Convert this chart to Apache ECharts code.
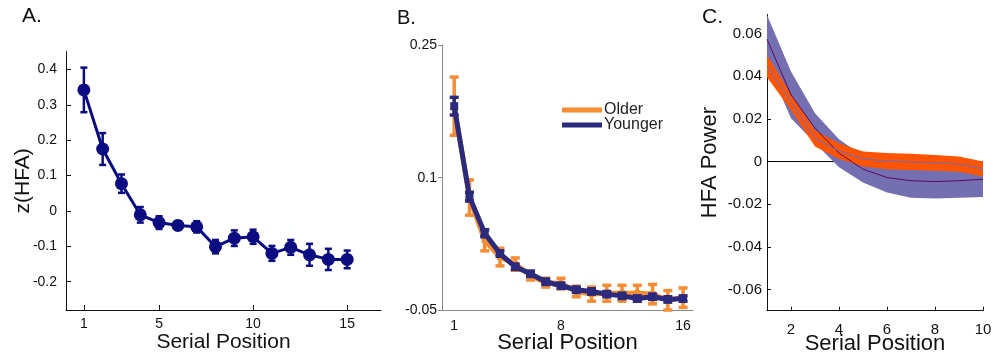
<!DOCTYPE html>
<html>
<head>
<meta charset="utf-8">
<script src="https://cdn.jsdelivr.net/npm/echarts@6/dist/echarts.min.js"></script>
<style>html,body{margin:0;padding:0;background:#fff}#c{width:993px;height:358px}</style>
</head>
<body>
<div id="c"></div>
<script>
// ---------- Panel A ----------
const posA = [1,2,3,4,5,6,7,8,9,10,11,12,13,14,15];
const hfaA = [0.342,0.175,0.077,-0.011,-0.033,-0.041,-0.045,-0.101,-0.077,-0.073,-0.120,-0.103,-0.124,-0.137,-0.137];
const errA = [0.063,0.045,0.026,0.022,0.018,0.012,0.016,0.019,0.022,0.020,0.021,0.021,0.031,0.030,0.025];
const xTicksA = [1,5,10,15];
const yTicksA = [-0.2,-0.1,0,0.1,0.2,0.3,0.4];

// ---------- Panel B ----------
const posB = [1,2,3,4,5,6,7,8,9,10,11,12,13,14,15,16];
const olderB = [0.181,0.0775,0.029,0.010,0.002,-0.011,-0.019,-0.020,-0.029,-0.032,-0.031,-0.031,-0.031,-0.032,-0.039,-0.036];
const olderErrB = [0.033,0.020,0.012,0.010,0.007,0.005,0.005,0.006,0.006,0.008,0.009,0.009,0.009,0.011,0.011,0.011];
const youngerB = [0.181,0.0785,0.037,0.014,-0.001,-0.009,-0.018,-0.0225,-0.027,-0.029,-0.032,-0.034,-0.037,-0.035,-0.038,-0.037];
const youngerErrB = [0.010,0.005,0.004,0.003,0.003,0.003,0.003,0.003,0.003,0.003,0.003,0.003,0.003,0.003,0.003,0.003];
const xTicksB = [1,8,16];
const yTicksB = [-0.05,0.1,0.25];

// ---------- Panel C ----------
const posC = [1,2,3,4,5,6,7,8,9,10];
const youngMeanC = [0.0574,0.0313,0.0157,0.0039,-0.0036,-0.0075,-0.009,-0.0094,-0.009,-0.0083];
const youngHalfC = [0.0114,0.011,0.007,0.0066,0.0062,0.007,0.008,0.008,0.008,0.0084];
const olderMeanC = [0.0448,0.0278,0.0108,0.0049,0.0012,0.0002,-0.0002,-0.0006,-0.0012,-0.0035];
const olderHalfC = [0.0052,0.0036,0.0038,0.0037,0.0035,0.0038,0.0038,0.0037,0.0036,0.0035];
const zeroLineC = [[1,0],[10,0]];
const xTicksC = [2,4,6,8,10];
const yTicksC = [-0.06,-0.04,-0.02,0,0.02,0.04,0.06];

const FONT = '"Liberation Sans", Arial, Helvetica, sans-serif';
const NAVY_A = '#0b0b82';
const ORANGE_B = '#f68d35';
const NAVY_B = '#2b2a7c';
const BLUE_C = '#736fb1';
const ORANGE_C = '#ff5500';

function pairs(xs, ys){ return xs.map((x,i)=>[x, ys[i]]); }
function triples(xs, ys, es){ return xs.map((x,i)=>[x, ys[i], es[i]]); }

function errBar(color, lw, capW){
  return function(params, api){
    const x = api.value(0), y = api.value(1), e = api.value(2);
    const t = api.coord([x, y + e]);
    const b = api.coord([x, y - e]);
    const st = {stroke: color, lineWidth: lw};
    return {type:'group', children:[
      {type:'line', shape:{x1:t[0], y1:t[1], x2:b[0], y2:b[1]}, style:st},
      {type:'line', shape:{x1:t[0]-capW/2, y1:t[1], x2:t[0]+capW/2, y2:t[1]}, style:st},
      {type:'line', shape:{x1:b[0]-capW/2, y1:b[1], x2:b[0]+capW/2, y2:b[1]}, style:st}
    ]};
  };
}

// band polygon through all points (drawn once, on the first item)
function makeBand(xs, mean, half, color){
  return function(params, api){
    if (params.dataIndex !== 0) return null;
    const upper = xs.map((x,i)=>api.coord([x, mean[i] + half[i]]));
    const lower = xs.map((x,i)=>api.coord([x, mean[i] - half[i]])).reverse();
    return {type:'polygon', shape:{points: upper.concat(lower)}, style:{fill: color}};
  };
}

const chart = echarts.init(document.getElementById('c'), null, {renderer:'canvas'});

const axisTextBase = {fontFamily: FONT, color:'#111'};

const option = {
  animation: false,
  textStyle: {fontFamily: FONT},
  graphic: [
    {type:'text', left:22, top:6, style:{text:'A.', font:'21px ' + FONT, fill:'#111'}},
    {type:'text', left:397, top:8, style:{text:'B.', font:'20px ' + FONT, fill:'#111'}},
    {type:'text', left:702, top:7, style:{text:'C.', font:'21px ' + FONT, fill:'#111'}}
  ],
  legend: {
    data: [{name:'Older', icon:'rect'}, {name:'Younger', icon:'rect'}],
    orient: 'vertical',
    left: 557, top: 97,
    itemWidth: 40, itemHeight: 5, itemGap: -1,
    textStyle: {fontSize: 16, lineHeight: 15, color:'#222', fontFamily: FONT, padding:[0,0,0,-3]}
  },
  grid: [
    {left:66, top:51.7, width:315, height:258.3, outerBoundsMode:'none', containLabel:false},
    {left:442, top:45.3, width:251, height:264.7, outerBoundsMode:'none', containLabel:false},
    {left:767, top:14.5, width:216, height:296.2, outerBoundsMode:'none', containLabel:false}
  ],
  xAxis: [
    {gridIndex:0, type:'value', min:0.05, max:16.8,
     name:'Serial Position', nameLocation:'middle', nameGap:22, nameMoveOverlap:false,
     nameTextStyle:{fontSize:21, color:'#111', fontFamily:FONT},
     axisLine:{show:true, onZero:false, lineStyle:{color:'#111', width:1}},
     axisTick:{show:true, inside:true, length:5, customValues:xTicksA, lineStyle:{color:'#111'}},
     axisLabel:{customValues:xTicksA, fontSize:14, margin:7, ...axisTextBase},
     splitLine:{show:false}},
    {gridIndex:1, type:'value', min:0.2, max:16.65,
     name:'Serial Position', nameLocation:'middle', nameGap:22, nameMoveOverlap:false,
     nameTextStyle:{fontSize:22, color:'#111', fontFamily:FONT},
     axisLine:{show:true, onZero:false, lineStyle:{color:'#888', width:1}},
     axisTick:{show:false, customValues:xTicksB},
     axisLabel:{customValues:xTicksB, fontSize:14, margin:9, ...axisTextBase},
     splitLine:{show:false}},
    {gridIndex:2, type:'value', min:1, max:10,
     name:'Serial Position', nameLocation:'middle', nameGap:22, nameMoveOverlap:false,
     nameTextStyle:{fontSize:22, color:'#111', fontFamily:FONT},
     axisLine:{show:true, onZero:false, lineStyle:{color:'#111', width:1}},
     axisTick:{show:true, inside:true, length:4, customValues:xTicksC, lineStyle:{color:'#111'}},
     axisLabel:{customValues:xTicksC, fontSize:15, margin:12, ...axisTextBase},
     splitLine:{show:false}}
  ],
  yAxis: [
    {gridIndex:0, type:'value', min:-0.28, max:0.45,
     name:'z(HFA)', nameLocation:'middle', nameGap:32, nameMoveOverlap:false,
     nameTextStyle:{fontSize:21, color:'#111', fontFamily:FONT},
     axisLine:{show:true, onZero:false, lineStyle:{color:'#111', width:1}},
     axisTick:{show:true, inside:true, length:5, customValues:yTicksA, lineStyle:{color:'#111'}},
     axisLabel:{customValues:yTicksA, fontSize:14, margin:9, ...axisTextBase},
     splitLine:{show:false}},
    {gridIndex:1, type:'value', min:-0.05, max:0.25,
     axisLine:{show:true, onZero:false, lineStyle:{color:'#888', width:1}},
     axisTick:{show:true, inside:false, length:4, customValues:yTicksB, lineStyle:{color:'#888'}},
     axisLabel:{customValues:yTicksB, fontSize:14, margin:5, ...axisTextBase},
     splitLine:{show:false}},
    {gridIndex:2, type:'value', min:-0.07, max:0.069,
     name:'HFA Power', nameLocation:'middle', nameGap:46, nameMoveOverlap:false,
     nameTextStyle:{fontSize:22, color:'#111', fontFamily:FONT},
     axisLine:{show:true, onZero:false, lineStyle:{color:'#111', width:1}},
     axisTick:{show:true, inside:true, length:4, customValues:yTicksC, lineStyle:{color:'#111'}},
     axisLabel:{customValues:yTicksC, fontSize:15, margin:5, ...axisTextBase},
     splitLine:{show:false}}
  ],
  series: [
    // Panel A
    {type:'custom', name:'errA', xAxisIndex:0, yAxisIndex:0, renderItem: errBar(NAVY_A, 2.5, 7),
     encode:{x:0, y:1}, data: triples(posA, hfaA, errA), z:3},
    {type:'line', name:'A', xAxisIndex:0, yAxisIndex:0, data: pairs(posA, hfaA),
     lineStyle:{color:NAVY_A, width:3}, itemStyle:{color:NAVY_A}, symbol:'circle', symbolSize:13, z:4},

    // Panel B
    {type:'custom', name:'errOlder', xAxisIndex:1, yAxisIndex:1, renderItem: errBar(ORANGE_B, 3.5, 9),
     encode:{x:0, y:1}, data: triples(posB, olderB, olderErrB), z:2},
    {type:'line', name:'Older', xAxisIndex:1, yAxisIndex:1, data: pairs(posB, olderB),
     lineStyle:{color:ORANGE_B, width:5}, itemStyle:{color:ORANGE_B}, symbol:'rect', symbolSize:6, z:3},
    {type:'custom', name:'errYounger', xAxisIndex:1, yAxisIndex:1, renderItem: errBar(NAVY_B, 3.5, 9),
     encode:{x:0, y:1}, data: triples(posB, youngerB, youngerErrB), z:4},
    {type:'line', name:'Younger', xAxisIndex:1, yAxisIndex:1, data: pairs(posB, youngerB),
     lineStyle:{color:NAVY_B, width:5}, itemStyle:{color:NAVY_B}, symbol:'rect', symbolSize:8, z:5},

    // Panel C
    {type:'line', name:'zero', xAxisIndex:2, yAxisIndex:2, data: zeroLineC, symbol:'none',
     lineStyle:{color:'#000', width:1}, z:1},
    {type:'custom', name:'youngBand', xAxisIndex:2, yAxisIndex:2, encode:{x:0, y:1},
     data: triples(posC, youngMeanC, youngHalfC),
     renderItem: makeBand(posC, youngMeanC, youngHalfC, BLUE_C), z:2, clip:true},
    {type:'custom', name:'olderBand', xAxisIndex:2, yAxisIndex:2, encode:{x:0, y:1},
     data: triples(posC, olderMeanC, olderHalfC),
     renderItem: makeBand(posC, olderMeanC, olderHalfC, ORANGE_C), z:3, clip:true},
    {type:'line', name:'yMean', xAxisIndex:2, yAxisIndex:2, data: pairs(posC, youngMeanC), symbol:'none',
     lineStyle:{color:'#5c0a55', width:1}, z:4},
    {type:'line', name:'oMean', xAxisIndex:2, yAxisIndex:2, data: pairs(posC, olderMeanC), symbol:'none',
     lineStyle:{color:'#6d6cc0', width:1}, z:4}
  ]
};
chart.setOption(option);
</script>
</body>
</html>
